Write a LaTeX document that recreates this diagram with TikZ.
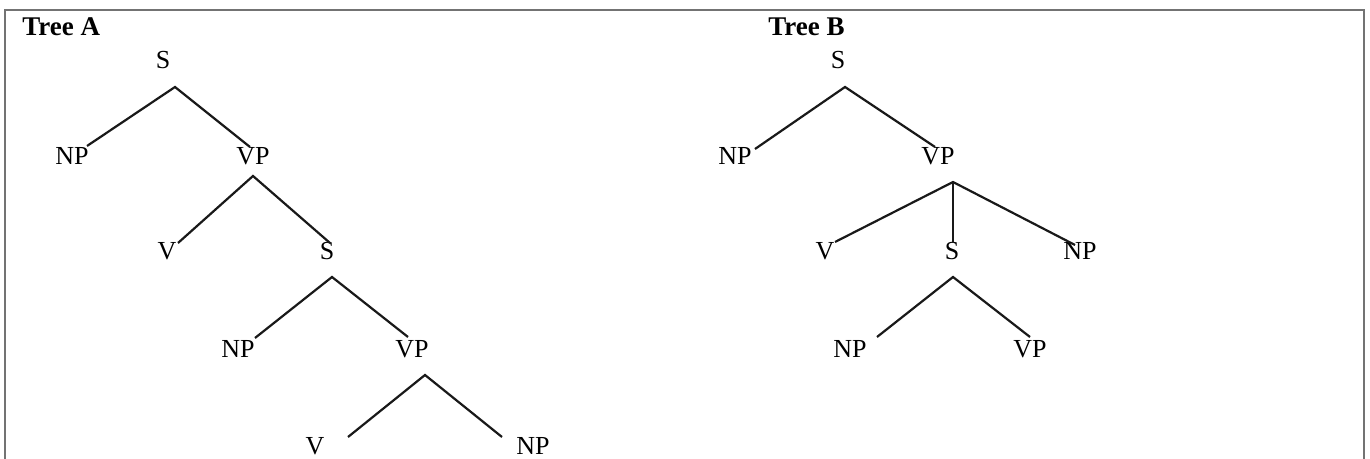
\documentclass[tikz,border=0pt]{standalone}
\usepackage{fontspec}
\setmainfont{Liberation Serif}
\begin{document}
\begin{tikzpicture}[x=0.5pt,y=-0.5pt,
  lab/.style={anchor=base,inner sep=0pt,font=\fontsize{13}{15}\selectfont},
  ttl/.style={anchor=base west,inner sep=0pt,font=\fontsize{13.5}{15}\selectfont\bfseries},
  edge/.style={line width=1.1pt,black!90},
  frame/.style={line width=1.1pt,black!55}]
\useasboundingbox (0,0) rectangle (1370,459);
\draw[frame] (5,462) -- (5,10) -- (1364,10) -- (1364,462);
% Tree A
\node[ttl] (tA) at (22,36) {Tree A};
\node[lab] (aS) at (163,69) {S};
\node[lab] (aNP) at (72,165) {NP};
\node[lab] (aVP) at (253,165) {VP};
\node[lab] (aV) at (167,260) {V};
\node[lab] (aS2) at (327,260) {S};
\node[lab] (aNP2) at (238,358) {NP};
\node[lab] (aVP2) at (412,358) {VP};
\node[lab] (aV2) at (315,454) {V};
\node[lab] (aNP3) at (533,454) {NP};
\coordinate (aSa) at (175,87);
\coordinate (aNPe) at (87,146);
\coordinate (aVPe) at (250,147);
\coordinate (aVPa) at (253,176);
\coordinate (aVe) at (178,243);
\coordinate (aS2e) at (330,243);
\coordinate (aS2a) at (332,277);
\coordinate (aNP2e) at (255,338);
\coordinate (aVP2e) at (408,337);
\coordinate (aVP2a) at (425,375);
\coordinate (aV2e) at (348,437);
\coordinate (aNP3e) at (502,437);
\draw[edge] (aNPe) -- (aSa) -- (aVPe);
\draw[edge] (aVe) -- (aVPa) -- (aS2e);
\draw[edge] (aNP2e) -- (aS2a) -- (aVP2e);
\draw[edge] (aV2e) -- (aVP2a) -- (aNP3e);
% Tree B
\node[ttl] (tB) at (768,36) {Tree B};
\node[lab] (bS) at (838,69) {S};
\node[lab] (bNP) at (735,165) {NP};
\node[lab] (bVP) at (938,165) {VP};
\node[lab] (bV) at (825,260) {V};
\node[lab] (bS2) at (952,260) {S};
\node[lab] (bNP2) at (1080,260) {NP};
\node[lab] (bNP3) at (850,358) {NP};
\node[lab] (bVP3) at (1030,358) {VP};
\coordinate (bSa) at (845,87);
\coordinate (bNPe) at (755,149);
\coordinate (bVPe) at (935,147);
\coordinate (bVPa) at (953,182);
\coordinate (bVe) at (835,242);
\coordinate (bS2e) at (953,243);
\coordinate (bNP2e) at (1075,245);
\coordinate (bS2a) at (953,277);
\coordinate (bNP3e) at (877,337);
\coordinate (bVP3e) at (1030,337);
\draw[edge] (bNPe) -- (bSa) -- (bVPe);
\draw[edge] (bVe) -- (bVPa) -- (bNP2e);
\draw[edge] (bVPa) -- (bS2e);
\draw[edge] (bNP3e) -- (bS2a) -- (bVP3e);
\end{tikzpicture}
\end{document}
